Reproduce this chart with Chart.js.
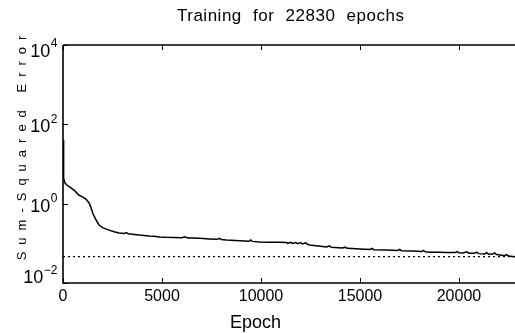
<!DOCTYPE html>
<html>
<head>
<meta charset="utf-8">
<script src="https://cdn.jsdelivr.net/npm/chart.js@4.4.1/dist/chart.umd.min.js"></script>
<style>
  html, body { margin: 0; padding: 0; background: #fff; }
  #wrap { width: 515px; height: 333px; }
</style>
</head>
<body>
<div id="wrap"><canvas id="chart" width="515" height="333"></canvas></div>
<script>
// Training record
const epochs = [
    0, 15, 30, 50, 100, 200, 400, 600, 800, 1000,
    1160, 1320, 1420, 1520, 1670, 1820, 2020, 2330, 2580, 2830,
    3100, 3200, 3300, 3600, 3850, 4100, 4350, 4600, 4860, 5200,
    5620, 6000, 6150, 6300, 6530, 6900, 7390, 7800, 7900, 8000,
    8250, 8700, 9160, 9400, 9480, 9560, 9920, 10400, 10900, 11290,
    11350, 11500, 11600, 11750, 11850, 12000, 12100, 12250, 12350, 12450,
    12900, 13310, 13450, 13550, 14120, 14250, 14350, 14600, 14980, 15500,
    15600, 15700, 16350, 16900, 17000, 17100, 17670, 18100, 18200, 18300,
    18530, 19000, 19390, 19800, 19900, 20000, 20200, 20400, 20500, 20800,
    20900, 21000, 21300, 21400, 21500, 21700, 21800, 21900, 22070, 22300,
    22400, 22500, 22830
];
const sse = [
    40, 22, 9.4, 4.4, 3.3, 2.95, 2.5, 2.1, 1.65, 1.47,
    1.3, 1.04, 0.78, 0.55, 0.39, 0.29, 0.245, 0.215, 0.195, 0.182,
    0.178, 0.186, 0.174, 0.168, 0.162, 0.158, 0.153, 0.15, 0.145, 0.142,
    0.14, 0.138, 0.147, 0.137, 0.136, 0.134, 0.129, 0.126, 0.134, 0.125,
    0.121, 0.118, 0.115, 0.113, 0.121, 0.112, 0.108, 0.107, 0.106, 0.105,
    0.1, 0.106, 0.099, 0.105, 0.098, 0.104, 0.097, 0.103, 0.095, 0.091,
    0.086, 0.081, 0.086, 0.08, 0.076, 0.08, 0.075, 0.074, 0.072, 0.07,
    0.075, 0.069, 0.068, 0.066, 0.07, 0.065, 0.064, 0.062, 0.066, 0.061,
    0.06, 0.0595, 0.059, 0.0585, 0.062, 0.058, 0.057, 0.061, 0.0565, 0.056,
    0.06, 0.055, 0.054, 0.058, 0.053, 0.0535, 0.057, 0.052, 0.051, 0.049,
    0.052, 0.048, 0.0458
];
const goal = 0.046;
const totalEpochs = 22830;

const xTicks = [0, 5000, 10000, 15000, 20000];
const xTickLabels = ['0', '5000', '10000', '15000', '20000'];
const yTicks = [1e4, 1e2, 1e0, 1e-2];
const yTickExponents = ['4', '2', '0', '-2'];

const titleText = 'Training for ' + totalEpochs + ' epochs';
const xTitle = 'Epoch';
const yTitle = 'Sum-Squared Error';

const FONT = '"Liberation Sans", Arial, Helvetica, sans-serif';

// axes frame, ticks and all text, MATLAB style
const matlabAxes = {
    id: 'matlabAxes',
    afterDraw(chart) {
        const ctx = chart.ctx;
        const ca = chart.chartArea;
        const xs = chart.scales.x;
        const ys = chart.scales.y;
        ctx.save();
        ctx.strokeStyle = '#000';
        ctx.fillStyle = '#000';
        ctx.lineWidth = 1.6;

        // frame: left, bottom, top (right edge is off the picture)
        ctx.beginPath();
        ctx.moveTo(ca.left, ca.top);
        ctx.lineTo(ca.right, ca.top);
        ctx.moveTo(ca.left, ca.top);
        ctx.lineTo(ca.left, ca.bottom);
        ctx.lineTo(ca.right, ca.bottom);
        ctx.stroke();

        // inward ticks
        ctx.lineWidth = 1;
        ctx.beginPath();
        xTicks.forEach(v => {
            const px = Math.round(xs.getPixelForValue(v)) + 0.5;
            ctx.moveTo(px, ca.bottom); ctx.lineTo(px, ca.bottom - 5);
            ctx.moveTo(px, ca.top); ctx.lineTo(px, ca.top + 5);
        });
        yTicks.forEach(v => {
            const py = Math.round(ys.getPixelForValue(v)) + 0.5;
            ctx.moveTo(ca.left, py); ctx.lineTo(ca.left + 5, py);
        });
        ctx.stroke();

        // x tick labels
        ctx.font = '16px ' + FONT;
        ctx.textAlign = 'center';
        ctx.textBaseline = 'alphabetic';
        xTicks.forEach((v, i) => {
            ctx.fillText(xTickLabels[i], xs.getPixelForValue(v), 300.5);
        });

        // y tick labels: 10 with raised exponent
        yTicks.forEach((v, i) => {
            let cy = ys.getPixelForValue(v) + 1.5;
            cy = Math.max(ca.top + 5, Math.min(ca.bottom - 6.5, cy));
            const exp = yTickExponents[i].replace('-', '\u2212');
            ctx.font = '12px ' + FONT;
            ctx.textAlign = 'right';
            const ew = ctx.measureText(exp).width;
            ctx.fillText(exp, 57.5, cy - 3);
            ctx.font = '18px ' + FONT;
            ctx.fillText('10', 57.5 - ew - 0.5, cy + 6.5);
        });

        // title
        ctx.font = '17px ' + FONT;
        ctx.textAlign = 'left';
        if ('letterSpacing' in ctx) ctx.letterSpacing = '0.5px';
        if ('wordSpacing' in ctx) ctx.wordSpacing = '6px';
        ctx.fillText(titleText, 177, 21);
        if ('wordSpacing' in ctx) ctx.wordSpacing = '0px';

        // x axis title
        ctx.font = '18px ' + FONT;
        if ('letterSpacing' in ctx) ctx.letterSpacing = '0px';
        ctx.fillText(xTitle, 230, 328);

        // y axis title, rotated and spread out
        ctx.translate(25.5, 148);
        ctx.rotate(-Math.PI / 2);
        ctx.font = '13px ' + FONT;
        ctx.textAlign = 'center';
        if ('letterSpacing' in ctx) ctx.letterSpacing = '7px';
        ctx.fillText(yTitle, 3.5, 0);
        ctx.restore();
    }
};

const ctx = document.getElementById('chart').getContext('2d');
new Chart(ctx, {
    type: 'line',
    data: {
        datasets: [
            {
                label: 'Error',
                data: epochs.map((e, i) => ({ x: e, y: sse[i] })),
                borderColor: '#000',
                borderWidth: 1.5,
                pointRadius: 0,
                tension: 0
            },
            {
                label: 'Goal',
                data: [{ x: 0, y: goal }, { x: totalEpochs, y: goal }],
                borderColor: '#000',
                borderWidth: 1.2,
                borderDash: [2, 3],
                pointRadius: 0
            }
        ]
    },
    options: {
        responsive: false,
        animation: false,
        devicePixelRatio: 1,
        layout: { padding: { left: 63, top: 45, right: 0, bottom: 50 } },
        plugins: {
            legend: { display: false },
            title: { display: false },
            tooltip: { enabled: false }
        },
        scales: {
            x: {
                type: 'linear',
                min: 0,
                max: totalEpochs,
                grid: { display: false, drawTicks: false },
                border: { display: false },
                ticks: { display: false }
            },
            y: {
                type: 'logarithmic',
                min: 1e-2,
                max: 1e4,
                grid: { display: false, drawTicks: false },
                border: { display: false },
                ticks: { display: false }
            }
        }
    },
    plugins: [matlabAxes]
});
</script>
</body>
</html>
